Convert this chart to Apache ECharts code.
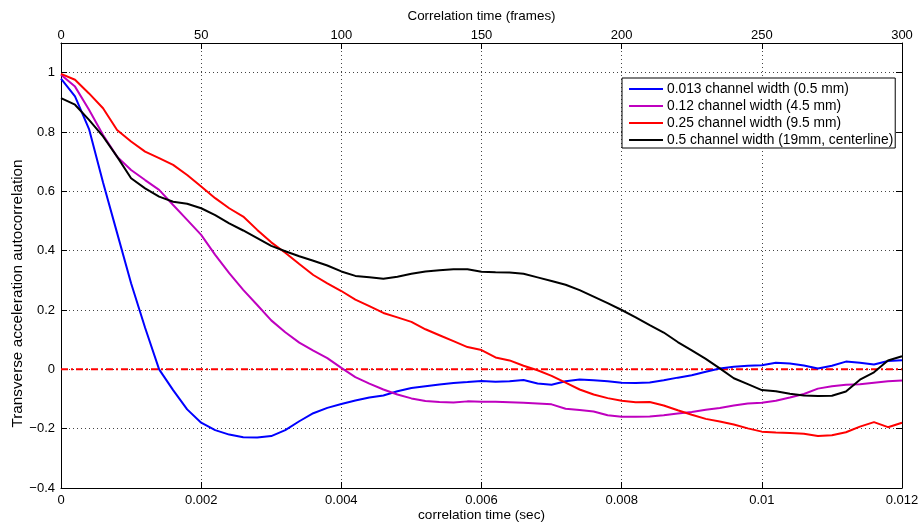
<!DOCTYPE html>
<html>
<head>
<meta charset="utf-8">
<title>Transverse acceleration autocorrelation</title>
<script src="https://cdn.jsdelivr.net/npm/echarts@6/dist/echarts.min.js"></script>
<style>
  html, body { margin: 0; padding: 0; background: #fff; }
  #chart { width: 918px; height: 523px; }
</style>
</head>
<body>
<div id="chart"></div>
<script>
// sample times (sec), one point every 5 frames
var timeSec = [
  0, 0.0002, 0.0004, 0.0006, 0.0008, 0.0010, 0.0012, 0.0014, 0.0016, 0.0018,
  0.0020, 0.0022, 0.0024, 0.0026, 0.0028, 0.0030, 0.0032, 0.0034, 0.0036, 0.0038,
  0.0040, 0.0042, 0.0044, 0.0046, 0.0048, 0.0050, 0.0052, 0.0054, 0.0056, 0.0058,
  0.0060, 0.0062, 0.0064, 0.0066, 0.0068, 0.0070, 0.0072, 0.0074, 0.0076, 0.0078,
  0.0080, 0.0082, 0.0084, 0.0086, 0.0088, 0.0090, 0.0092, 0.0094, 0.0096, 0.0098,
  0.0100, 0.0102, 0.0104, 0.0106, 0.0108, 0.0110, 0.0112, 0.0114, 0.0116, 0.0118,
  0.0120
];

var seriesNames = [
  '0.013 channel width (0.5 mm)',
  '0.12 channel width (4.5 mm)',
  '0.25 channel width (9.5 mm)',
  '0.5 channel width (19mm, centerline)'
];

var width013 = [
  0.98, 0.92, 0.81, 0.63, 0.46, 0.29, 0.14, 0.00, -0.07, -0.135,
  -0.18, -0.205, -0.22, -0.229, -0.23, -0.225, -0.205, -0.175, -0.148, -0.13,
  -0.117, -0.105, -0.095, -0.088, -0.074, -0.063, -0.057, -0.051, -0.046, -0.043,
  -0.039, -0.042, -0.04, -0.036, -0.048, -0.052, -0.04, -0.034, -0.037, -0.04,
  -0.045, -0.046, -0.044, -0.037, -0.028, -0.02, -0.008, 0.003, 0.009, 0.012,
  0.014, 0.022, 0.02, 0.013, 0.003, 0.012, 0.026, 0.022, 0.016, 0.028,
  0.031
];

var width012 = [
  0.993, 0.953, 0.875, 0.79, 0.717, 0.672, 0.638, 0.605, 0.554, 0.504,
  0.453, 0.386, 0.324, 0.268, 0.217, 0.165, 0.125, 0.09, 0.063, 0.038,
  0.005, -0.026, -0.048, -0.068, -0.085, -0.098, -0.107, -0.11, -0.112, -0.108,
  -0.109, -0.109, -0.111, -0.113, -0.115, -0.118, -0.133, -0.137, -0.142, -0.155,
  -0.16, -0.16, -0.159, -0.155, -0.149, -0.144, -0.136, -0.13, -0.122, -0.115,
  -0.113, -0.106, -0.095, -0.083, -0.065, -0.057, -0.052, -0.05, -0.045, -0.04,
  -0.038
];

var width025 = [
  0.996, 0.976, 0.93, 0.88, 0.807, 0.768, 0.734, 0.712, 0.689, 0.655,
  0.616, 0.577, 0.543, 0.515, 0.47, 0.428, 0.393, 0.355, 0.318, 0.29,
  0.264, 0.235, 0.213, 0.19, 0.175, 0.16, 0.135, 0.115, 0.095, 0.075,
  0.065, 0.04, 0.03, 0.012, -0.003, -0.022, -0.045, -0.068, -0.085, -0.097,
  -0.106, -0.111, -0.11, -0.122, -0.138, -0.153, -0.167, -0.176, -0.186, -0.199,
  -0.21, -0.213, -0.215, -0.217, -0.225, -0.222, -0.212, -0.193, -0.178, -0.195,
  -0.18
];

var width05 = [
  0.914, 0.892, 0.841, 0.785, 0.717, 0.644, 0.61, 0.582, 0.565, 0.558,
  0.543, 0.52, 0.492, 0.468, 0.442, 0.416, 0.398, 0.381, 0.366, 0.35,
  0.33, 0.315, 0.31, 0.305, 0.312, 0.322, 0.33, 0.334, 0.337, 0.337,
  0.329, 0.327, 0.326, 0.322, 0.31, 0.298, 0.285, 0.267, 0.245, 0.223,
  0.2, 0.175, 0.149, 0.124, 0.092, 0.064, 0.035, 0.003, -0.03, -0.05,
  -0.07, -0.074, -0.082, -0.088, -0.09, -0.089, -0.075, -0.035, -0.01, 0.03,
  0.044
];

var seriesColors = ['#0000ff', '#bf00bf', '#ff0000', '#000000'];
var zeroLine = [[0, 0], [0.012, 0]];

function pairs(values) {
  return timeSec.map(function (t, i) { return [t, values[i]]; });
}

var chart = echarts.init(document.getElementById('chart'));
var font = 'Liberation Sans';
var gridDots = { color: '#444', width: 1, type: [1, 3] };

var lines = [width013, width012, width025, width05].map(function (vals, i) {
  return {
    name: seriesNames[i],
    type: 'line',
    data: pairs(vals),
    showSymbol: false,
    symbol: 'none',
    lineStyle: { color: seriesColors[i], width: 2 },
    itemStyle: { color: seriesColors[i] },
    z: 3
  };
});

// dash-dot reference line at zero
lines.push({
  name: 'zero',
  type: 'line',
  data: zeroLine,
  symbol: 'none',
  silent: true,
  lineStyle: { color: '#ff0000', width: 2, type: [7, 3, 2, 3] },
  z: 2
});

var option = {
  animation: false,
  textStyle: { fontFamily: font },
  grid: { left: 61, right: 16, top: 43, bottom: 35, outerBoundsMode: 'none', containLabel: false },
  legend: {
    data: seriesNames,
    orient: 'vertical',
    left: 622,
    top: 78,
    backgroundColor: '#fff',
    borderColor: '#000',
    borderWidth: 1,
    borderRadius: 0,
    padding: [4, 2, 1, 7],
    icon: 'rect',
    itemWidth: 34,
    itemHeight: 2,
    itemGap: 3,
    textStyle: { fontFamily: font, fontSize: 13.8, color: '#000', padding: [0, 0, 0, -1] }
  },
  xAxis: [
    {
      type: 'value',
      position: 'bottom',
      min: 0,
      max: 0.012,
      interval: 0.002,
      name: 'correlation time (sec)',
      nameLocation: 'middle',
      nameGap: 20,
      nameMoveOverlap: false,
      nameTextStyle: { fontFamily: font, fontSize: 13.6, color: '#000' },
      axisLine: { onZero: false, lineStyle: { color: '#000', width: 1 } },
      axisTick: { inside: true, length: 6, lineStyle: { color: '#000' } },
      axisLabel: { fontFamily: font, fontSize: 13, color: '#000', margin: 6 },
      splitLine: { show: true, lineStyle: gridDots }
    },
    {
      type: 'value',
      position: 'top',
      min: 0,
      max: 300,
      interval: 50,
      name: 'Correlation time (frames)',
      nameLocation: 'middle',
      nameGap: 20,
      nameMoveOverlap: false,
      nameTextStyle: { fontFamily: font, fontSize: 13.4, color: '#000' },
      axisLine: { onZero: false, lineStyle: { color: '#000', width: 1 } },
      axisTick: { inside: true, length: 6, lineStyle: { color: '#000' } },
      axisLabel: { fontFamily: font, fontSize: 13, color: '#000', margin: 1 },
      splitLine: { show: false }
    }
  ],
  yAxis: [
    {
      type: 'value',
      position: 'left',
      min: -0.4,
      max: 1.1,
      interval: 0.2,
      name: 'Transverse acceleration autocorrelation',
      nameLocation: 'middle',
      nameGap: 36,
      nameMoveOverlap: false,
      nameTextStyle: { fontFamily: font, fontSize: 15.3, color: '#000', padding: [0, 56, 0, 0] },
      axisLine: { onZero: false, lineStyle: { color: '#000', width: 1 } },
      axisTick: { inside: true, length: 6, lineStyle: { color: '#000' } },
      axisLabel: {
        fontFamily: font, fontSize: 13, color: '#000', margin: 6,
        showMaxLabel: false,
        formatter: function (v) {
          if (v > 1.05) return '';
          var s = String(Math.round(v * 10) / 10);
          return s.replace('-', '\u2212');
        }
      },
      splitLine: { show: true, lineStyle: gridDots }
    },
    {
      type: 'value',
      position: 'right',
      min: -0.4,
      max: 1.1,
      interval: 0.2,
      axisLine: { onZero: false, lineStyle: { color: '#000', width: 1 } },
      axisTick: { inside: true, length: 6, lineStyle: { color: '#000' } },
      axisLabel: { show: false },
      splitLine: { show: false }
    }
  ],
  series: lines
};

chart.setOption(option);
window.addEventListener('resize', function () {
  chart.resize();
});
</script>
</body>
</html>
